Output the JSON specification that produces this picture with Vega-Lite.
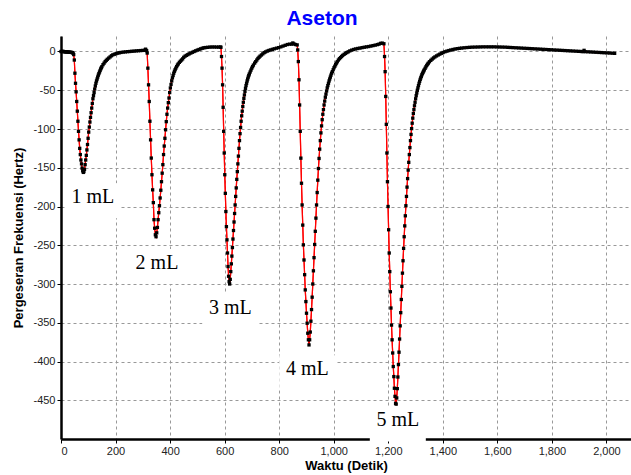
{
  "$schema": "https://vega.github.io/schema/vega-lite/v6.json",
  "width": 570,
  "height": 403,
  "autosize": {"type": "none"},
  "padding": {"left": 61, "top": 36, "right": 0, "bottom": 36},
  "background": "white",
  "title": {"text": "Aseton", "color": "#0000ff", "fontSize": 21, "font": "Liberation Sans", "fontWeight": "bold", "anchor": "middle", "frame": "bounds", "baseline": "alphabetic", "offset": -10},
  "config": {
    "view": {"stroke": null},
    "axis": {
      "grid": true, "gridColor": "#999999", "gridDash": [3, 3], "gridWidth": 1,
      "domainColor": "#000000", "domainWidth": 2.5, "tickColor": "#000000", "tickSize": 4,
      "labelFont": "Liberation Sans", "labelFontSize": 11, "labelColor": "#222222", "labelPadding": 2,
      "titleFont": "Liberation Sans", "titleFontSize": 13, "titleFontWeight": "bold", "titleColor": "#000000",
      "zindex": 0
    }
  },
  "datasets": {
    "kurva": [
      {"t":0,"f":0},{"t":3,"f":0},{"t":6,"f":0.2},{"t":9,"f":0},{"t":12,"f":-0.3},{"t":15,"f":-0.5},{"t":18,"f":-0.5},{"t":21,"f":-0.4},{"t":24,"f":-0.6},{"t":27,"f":-0.8},{"t":30,"f":-0.8},{"t":33,"f":-1},{"t":36,"f":-1},{"t":39,"f":-1.2},{"t":42,"f":-1.5},{"t":44.5,"f":-2.5},{"t":46.6,"f":-4},
      {"t":48.8,"f":-11},{"t":51,"f":-28},{"t":53.2,"f":-41},{"t":55.4,"f":-52},{"t":57.6,"f":-64.5},{"t":59.8,"f":-77},{"t":62,"f":-90},{"t":64.2,"f":-103},{"t":66.4,"f":-114},{"t":68.6,"f":-125},{"t":70.8,"f":-133},{"t":73,"f":-140},{"t":75.2,"f":-145},{"t":77.4,"f":-150.5},{"t":79.6,"f":-154},{"t":81.8,"f":-156},{"t":84,"f":-155},
      {"t":86.2,"f":-152},{"t":88.4,"f":-146},{"t":90.6,"f":-140},{"t":92.8,"f":-134},{"t":95,"f":-127},{"t":97.2,"f":-120},{"t":99.4,"f":-112},{"t":101.6,"f":-104},{"t":103.8,"f":-97.5},{"t":106,"f":-91},{"t":108.2,"f":-85},{"t":110.4,"f":-79},{"t":112.6,"f":-73},{"t":114.8,"f":-67},{"t":117,"f":-61},{"t":119.2,"f":-57},{"t":121.4,"f":-53},{"t":123.6,"f":-48.5},{"t":125.8,"f":-44.5},{"t":128,"f":-41},{"t":130.2,"f":-38},{"t":132.4,"f":-35.5},{"t":134.6,"f":-33},{"t":136.8,"f":-30.5},{"t":139,"f":-28.5},{"t":141.2,"f":-26.5},{"t":143.4,"f":-24.5},{"t":145.6,"f":-22.5},{"t":147.8,"f":-21},{"t":150,"f":-19.5},
      {"t":154,"f":-17},{"t":158,"f":-15},{"t":162,"f":-13},{"t":166,"f":-11.5},{"t":170,"f":-10},{"t":175,"f":-8.5},{"t":180,"f":-7},{"t":185,"f":-5.5},{"t":190,"f":-4.3},{"t":196,"f":-3.5},{"t":202,"f":-2.7},{"t":208,"f":-2.1},{"t":214,"f":-1.6},{"t":220,"f":-1.2},{"t":228,"f":-0.8},{"t":236,"f":-0.5},{"t":244,"f":-0.2},{"t":252,"f":0},{"t":260,"f":0.3},{"t":268,"f":0.5},{"t":276,"f":0.8},{"t":284,"f":1},{"t":292,"f":1.2},{"t":300,"f":1.4},{"t":306,"f":1.5},{"t":310,"f":3},{"t":312,"f":1.5},{"t":314,"f":1},
      {"t":316,"f":-2},{"t":318.5,"f":-21.5},{"t":321,"f":-43},{"t":323.5,"f":-64.5},{"t":326,"f":-90},{"t":328.5,"f":-114},{"t":331,"f":-137.5},{"t":333.5,"f":-159},{"t":336,"f":-178.5},{"t":338.5,"f":-195},{"t":341,"f":-217},{"t":343.5,"f":-228},{"t":346,"f":-236.5},{"t":348.5,"f":-239},
      {"t":351,"f":-234},{"t":353.5,"f":-227},{"t":356,"f":-217},{"t":358.5,"f":-208},{"t":361,"f":-199},{"t":363.5,"f":-189},{"t":366,"f":-179},{"t":368.5,"f":-168},{"t":371,"f":-157},{"t":373.5,"f":-146},{"t":376,"f":-133},{"t":378.5,"f":-122},{"t":381,"f":-112},{"t":383.5,"f":-101},{"t":386,"f":-90.5},{"t":388.5,"f":-81},{"t":391,"f":-73},{"t":393.5,"f":-66},{"t":396,"f":-60},{"t":398.5,"f":-53},{"t":401,"f":-47},{"t":403.5,"f":-42.5},{"t":406,"f":-38},{"t":408.5,"f":-34},{"t":411,"f":-31},{"t":413.5,"f":-28},{"t":416,"f":-25.5},{"t":418.5,"f":-23.5},{"t":421,"f":-21.5},{"t":424,"f":-19.5},{"t":427,"f":-17.5},{"t":430,"f":-16},
      {"t":434,"f":-14},{"t":438,"f":-12.5},{"t":442,"f":-11},{"t":446,"f":-9.5},{"t":450,"f":-7.5},{"t":455,"f":-6},{"t":460,"f":-5},{"t":465,"f":-4},{"t":470,"f":-3},{"t":476,"f":-2},{"t":482,"f":-1},{"t":488,"f":0},{"t":494,"f":0.9},{"t":500,"f":1.8},{"t":506,"f":2.6},{"t":512,"f":3.4},{"t":518,"f":4.2},{"t":524,"f":4.8},{"t":530,"f":5.1},{"t":538,"f":5.4},{"t":546,"f":5.7},{"t":554,"f":5.8},{"t":562,"f":5.8},{"t":570,"f":5.7},{"t":578,"f":5.7},{"t":584,"f":5.8},{"t":586.5,"f":5.5},
      {"t":588.5,"f":-6.5},{"t":590.5,"f":-21.5},{"t":592.5,"f":-43},{"t":594.5,"f":-72},{"t":596.5,"f":-103},{"t":598.5,"f":-131},{"t":600.5,"f":-159},{"t":602.5,"f":-183},{"t":604.5,"f":-206.5},{"t":606.5,"f":-226},{"t":608.5,"f":-243},{"t":610.5,"f":-260},{"t":612.5,"f":-277.5},{"t":614.5,"f":-290},{"t":616.5,"f":-297},{"t":618.5,"f":-300},
      {"t":620.5,"f":-294},{"t":622.5,"f":-284},{"t":624.5,"f":-274},{"t":626.5,"f":-264},{"t":628.5,"f":-253},{"t":630.5,"f":-242},{"t":632.5,"f":-231},{"t":634.5,"f":-220},{"t":636.5,"f":-209},{"t":638.5,"f":-198},{"t":640.5,"f":-187},{"t":642.5,"f":-176},{"t":644.5,"f":-165},{"t":646.5,"f":-155},{"t":648.5,"f":-145},{"t":650.5,"f":-135},{"t":652.5,"f":-125},{"t":654.5,"f":-115},{"t":656.5,"f":-106},{"t":658.5,"f":-98},{"t":660.5,"f":-90},{"t":662.5,"f":-83},{"t":664.5,"f":-77},{"t":666.5,"f":-71},{"t":668.5,"f":-65.5},{"t":670.5,"f":-60.5},{"t":672.5,"f":-56},{"t":674.5,"f":-51.5},{"t":676.5,"f":-47.5},{"t":678.5,"f":-44},{"t":680.5,"f":-41},{"t":682.5,"f":-38},{"t":684.5,"f":-35.5},{"t":686.5,"f":-33},{"t":688.5,"f":-31},{"t":690.5,"f":-29},{"t":693.5,"f":-26.5},{"t":696.5,"f":-24},{"t":699.5,"f":-21.5},{"t":702.5,"f":-19.5},{"t":705.5,"f":-17.5},
      {"t":710,"f":-15},{"t":714,"f":-13},{"t":718,"f":-11},{"t":722,"f":-9},{"t":726,"f":-7.5},{"t":730,"f":-6},{"t":735,"f":-4.5},{"t":740,"f":-3},{"t":745,"f":-1.5},{"t":750,"f":-0.5},{"t":756,"f":0.5},{"t":762,"f":1.3},{"t":768,"f":2},{"t":775,"f":2.8},{"t":782,"f":3.5},{"t":790,"f":4.3},{"t":798,"f":5},{"t":806,"f":6},{"t":814,"f":7},{"t":822,"f":8},{"t":830,"f":9},{"t":838,"f":9.5},{"t":846,"f":9.5},{"t":850,"f":11},{"t":854,"f":9.8},{"t":860,"f":9},{"t":866,"f":8.5},
      {"t":868,"f":2},{"t":870.3,"f":-13},{"t":872.6,"f":-36.5},{"t":874.9,"f":-69},{"t":877.2,"f":-103},{"t":879.5,"f":-137.6},{"t":881.8,"f":-170},{"t":884.1,"f":-198},{"t":886.4,"f":-224},{"t":888.7,"f":-249.5},{"t":891,"f":-269},{"t":893.3,"f":-288},{"t":895.6,"f":-307.6},{"t":897.9,"f":-322.7},{"t":900.2,"f":-337.7},{"t":902.5,"f":-350.6},{"t":904.8,"f":-363.5},{"t":907.1,"f":-372},{"t":909.4,"f":-378.6},
      {"t":911.7,"f":-372},{"t":914,"f":-362},{"t":916.3,"f":-348},{"t":918.6,"f":-333},{"t":920.9,"f":-317},{"t":923.2,"f":-300},{"t":925.5,"f":-283},{"t":927.8,"f":-266},{"t":930.1,"f":-249},{"t":932.4,"f":-232},{"t":934.7,"f":-215},{"t":937,"f":-198},{"t":939.3,"f":-182},{"t":941.6,"f":-166},{"t":943.9,"f":-151},{"t":946.2,"f":-138},{"t":948.5,"f":-126},{"t":950.8,"f":-115},{"t":953.1,"f":-105},{"t":955.4,"f":-96},{"t":957.7,"f":-88},{"t":960,"f":-81},{"t":962.3,"f":-75},{"t":964.6,"f":-69},{"t":966.9,"f":-64},{"t":969.2,"f":-59},{"t":971.5,"f":-55},{"t":973.8,"f":-51},{"t":976.1,"f":-47},{"t":978.4,"f":-44},{"t":980.7,"f":-41},{"t":983,"f":-38},{"t":985.3,"f":-35.5},{"t":987.6,"f":-33},{"t":989.9,"f":-30.5},{"t":992.2,"f":-28},{"t":995,"f":-26},{"t":998,"f":-23.5},{"t":1001,"f":-21},{"t":1004,"f":-19},{"t":1007,"f":-17},{"t":1010,"f":-15},{"t":1013,"f":-13.2},
      {"t":1017,"f":-11},{"t":1021,"f":-9.3},{"t":1025,"f":-7.8},{"t":1029,"f":-6.4},{"t":1033,"f":-5},{"t":1038,"f":-3.7},{"t":1043,"f":-2.5},{"t":1048,"f":-1.4},{"t":1053,"f":-0.4},{"t":1059,"f":0.8},{"t":1066,"f":1.8},{"t":1073,"f":2.6},{"t":1080,"f":3.3},{"t":1088,"f":3.9},{"t":1096,"f":4.4},{"t":1104,"f":5},{"t":1112,"f":5.5},{"t":1120,"f":6},{"t":1128,"f":6.4},{"t":1136,"f":7},{"t":1144,"f":7.6},{"t":1152,"f":8.2},{"t":1160,"f":8.9},{"t":1166,"f":9.5},{"t":1172,"f":10.5},{"t":1178,"f":10.8},{"t":1184,"f":10},
      {"t":1186.4,"f":-6.5},{"t":1188.5,"f":-26},{"t":1190.7,"f":-58},{"t":1192.8,"f":-94},{"t":1194.9,"f":-131},{"t":1197,"f":-168},{"t":1199.2,"f":-200},{"t":1201.3,"f":-230},{"t":1203.4,"f":-260},{"t":1205.5,"f":-284},{"t":1207.7,"f":-310},{"t":1209.8,"f":-331},{"t":1211.9,"f":-353},{"t":1214,"f":-372},{"t":1216.2,"f":-389},{"t":1218.3,"f":-406.5},{"t":1220.4,"f":-419.5},{"t":1222.5,"f":-434.5},{"t":1224.7,"f":-445},{"t":1226.8,"f":-454},{"t":1228.9,"f":-455},
      {"t":1231,"f":-447},{"t":1233.1,"f":-435},{"t":1235.2,"f":-420},{"t":1237.3,"f":-404},{"t":1239.4,"f":-388},{"t":1241.5,"f":-371},{"t":1243.6,"f":-354},{"t":1245.7,"f":-337},{"t":1247.8,"f":-320},{"t":1249.9,"f":-303},{"t":1252,"f":-286},{"t":1254.1,"f":-270},{"t":1256.2,"f":-254},{"t":1258.3,"f":-239},{"t":1260.4,"f":-225},{"t":1262.5,"f":-212},{"t":1264.6,"f":-199},{"t":1266.7,"f":-187},{"t":1268.8,"f":-175},{"t":1270.9,"f":-164},{"t":1273,"f":-153},{"t":1275.1,"f":-143},{"t":1277.2,"f":-133},{"t":1279.3,"f":-124},{"t":1281.4,"f":-115},{"t":1283.5,"f":-107},{"t":1285.6,"f":-99.5},{"t":1287.7,"f":-92.5},{"t":1289.8,"f":-86},{"t":1291.9,"f":-80},{"t":1294,"f":-75},{"t":1296.1,"f":-70},{"t":1298.2,"f":-65.5},{"t":1300.3,"f":-61},{"t":1302.4,"f":-57},{"t":1304.5,"f":-53.5},{"t":1306.6,"f":-50},{"t":1308.7,"f":-47},{"t":1310.8,"f":-44},{"t":1312.9,"f":-41},{"t":1315,"f":-38.5},{"t":1317.1,"f":-36},{"t":1319.2,"f":-34},{"t":1321.3,"f":-32},{"t":1323.4,"f":-30},{"t":1325.5,"f":-28.3},{"t":1327.6,"f":-26.7},{"t":1329.7,"f":-25.2},{"t":1332,"f":-23.7},{"t":1335,"f":-21.7},{"t":1338,"f":-19.8},{"t":1341,"f":-18},{"t":1344,"f":-16.4},{"t":1347,"f":-15},
      {"t":1351,"f":-13.2},{"t":1356,"f":-11.4},{"t":1361,"f":-9.8},{"t":1366,"f":-8.3},{"t":1371,"f":-7},{"t":1377,"f":-5.7},{"t":1383,"f":-4.5},{"t":1389,"f":-3.4},{"t":1395,"f":-2.3},{"t":1401,"f":-1.3},{"t":1408,"f":-0.3},{"t":1415,"f":0.5},{"t":1422,"f":1.2},{"t":1429,"f":1.9},{"t":1437,"f":2.6},{"t":1445,"f":3.2},{"t":1453,"f":3.7},{"t":1461,"f":4.1},{"t":1469,"f":4.4},{"t":1478,"f":4.8},{"t":1488,"f":5.1},{"t":1498,"f":5.4},{"t":1508,"f":5.6},{"t":1518,"f":5.7},
      {"t":1528,"f":5.8},{"t":1538,"f":5.9},{"t":1548,"f":6},{"t":1558,"f":6},{"t":1568,"f":6},{"t":1578,"f":6},{"t":1588,"f":6},{"t":1598,"f":5.9},{"t":1608,"f":5.8},{"t":1618,"f":5.7},{"t":1628,"f":5.6},{"t":1638,"f":5.4},{"t":1648,"f":5.2},{"t":1658,"f":5},{"t":1668,"f":4.8},{"t":1678,"f":4.6},{"t":1688,"f":4.4},{"t":1698,"f":4.2},{"t":1708,"f":4},{"t":1718,"f":3.8},{"t":1728,"f":3.6},{"t":1738,"f":3.4},{"t":1748,"f":3.2},{"t":1758,"f":3},{"t":1768,"f":2.8},{"t":1778,"f":2.6},{"t":1788,"f":2.4},{"t":1798,"f":2.2},{"t":1808,"f":2},{"t":1818,"f":1.8},{"t":1828,"f":1.6},{"t":1838,"f":1.4},{"t":1848,"f":1.2},{"t":1858,"f":1},{"t":1868,"f":0.8},{"t":1878,"f":0.6},{"t":1888,"f":0.4},{"t":1898,"f":0.2},{"t":1908,"f":0},{"t":1914,"f":-0.1},{"t":1918,"f":1.5},{"t":1922,"f":-0.2},{"t":1932,"f":-0.4},{"t":1942,"f":-0.6},{"t":1952,"f":-0.8},{"t":1962,"f":-1},{"t":1972,"f":-1.2},{"t":1982,"f":-1.4},{"t":1992,"f":-1.6},{"t":2002,"f":-1.8},{"t":2012,"f":-2},{"t":2022,"f":-2.2},{"t":2030,"f":-2.4}
    ],
    "label": [
      {"t":117,"f":-188,"teks":"1 mL"},
      {"t":352,"f":-273,"teks":"2 mL"},
      {"t":621,"f":-331,"teks":"3 mL"},
      {"t":903,"f":-410,"teks":"4 mL"},
      {"t":1235,"f":-476,"teks":"5 mL"}
    ]
  },
  "layer": [
    {
      "data": {"name": "kurva"},
      "mark": {"type": "line", "color": "#ff0000", "strokeWidth": 1.2, "clip": true},
      "encoding": {
        "x": {"field": "t", "type": "quantitative", "title": "Waktu (Detik)",
              "scale": {"domain": [0, 2090], "nice": false, "zero": false},
              "axis": {"values": [0,200,400,600,800,1000,1200,1400,1600,1800,2000], "format": ",d", "titlePadding": 3}},
        "y": {"field": "f", "type": "quantitative", "title": "Pergeseran Frekuensi (Hertz)",
              "scale": {"domain": [-500, 20], "nice": false, "zero": false},
              "axis": {"values": [-450,-400,-350,-300,-250,-200,-150,-100,-50,0], "format": "d", "labelExpr": "replace(datum.label, '−', '-')", "titlePadding": 7}}
      }
    },
    {
      "mark": {"type": "rule", "color": "#888888", "strokeWidth": 1.5},
      "encoding": {"y": {"datum": 20, "type": "quantitative", "title": "Pergeseran Frekuensi (Hertz)"}}
    },
    {
      "data": {"name": "label"},
      "mark": {"type": "rect", "fill": "#ffffff", "color": "#ffffff", "xOffset": -28, "x2Offset": 28, "yOffset": -14, "y2Offset": 21},
      "encoding": {
        "x": {"field": "t", "type": "quantitative", "title": "Waktu (Detik)"},
        "x2": {"field": "t"},
        "y": {"field": "f", "type": "quantitative", "title": "Pergeseran Frekuensi (Hertz)"},
        "y2": {"field": "f"}
      }
    },
    {
      "data": {"name": "kurva"},
      "mark": {"type": "line", "color": "#ff0000", "strokeWidth": 1.2, "clip": true},
      "encoding": {
        "x": {"field": "t", "type": "quantitative", "title": "Waktu (Detik)"},
        "y": {"field": "f", "type": "quantitative", "title": "Pergeseran Frekuensi (Hertz)"}
      }
    },
    {
      "data": {"name": "kurva"},
      "mark": {"type": "point", "shape": "square", "filled": true, "size": 11, "color": "#000000", "opacity": 1},
      "encoding": {
        "x": {"field": "t", "type": "quantitative", "title": "Waktu (Detik)"},
        "y": {"field": "f", "type": "quantitative", "title": "Pergeseran Frekuensi (Hertz)"}
      }
    },
    {
      "data": {"name": "label"},
      "mark": {"type": "text", "font": "Liberation Serif", "fontSize": 20, "color": "#000000", "align": "center", "baseline": "middle"},
      "encoding": {
        "x": {"field": "t", "type": "quantitative", "title": "Waktu (Detik)"},
        "y": {"field": "f", "type": "quantitative", "title": "Pergeseran Frekuensi (Hertz)"},
        "text": {"field": "teks"}
      }
    }
  ]
}
